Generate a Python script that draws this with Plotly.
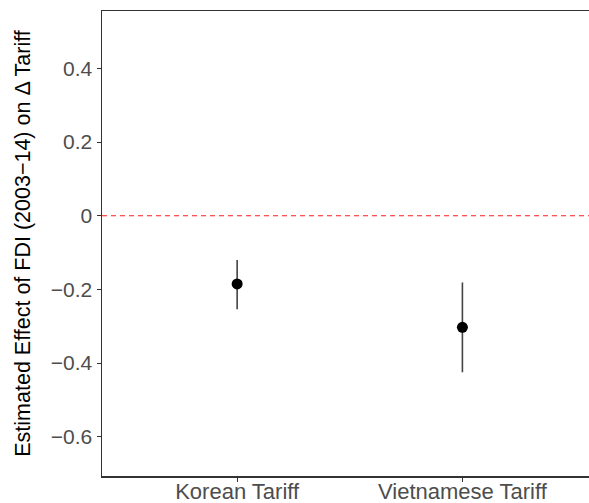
import plotly.graph_objects as go

categories = ["Korean Tariff", "Vietnamese Tariff"]
estimates = [-0.185, -0.303]
ci_upper = [-0.120, -0.181]
ci_lower = [-0.254, -0.425]
y_ticks = [0.4, 0.2, 0, -0.2, -0.4, -0.6]
y_tick_labels = ["0.4", "0.2", "0", "\u22120.2", "\u22120.4", "\u22120.6"]

err_plus = [u - e for u, e in zip(ci_upper, estimates)]
err_minus = [e - l for e, l in zip(estimates, ci_lower)]

fig = go.Figure()
fig.add_trace(go.Scatter(
    x=categories, y=estimates, mode="markers",
    marker=dict(color="black", size=11),
    error_y=dict(type="data", symmetric=False, array=err_plus, arrayminus=err_minus,
                 color="#444444", thickness=1.6, width=0),
    showlegend=False, hoverinfo="skip",
))
fig.add_hline(y=0, line=dict(color="#FF1A1A", width=1.1, dash="5px,4px"))

font_family = "Liberation Sans, Arial, sans-serif"
fig.update_layout(
    width=589, height=503,
    margin=dict(l=102, r=0, t=11, b=27, pad=0),
    paper_bgcolor="white", plot_bgcolor="white",
    font=dict(family=font_family),
    hovermode=False,
    xaxis=dict(
        type="category", range=[-0.6, 1.562], automargin=False,
        showline=True, linecolor="#333333", linewidth=1.5, mirror=True,
        ticks="outside", ticklen=4, tickcolor="#333333", tickwidth=1,
        tickfont=dict(size=22, color="#4D4D4D", family=font_family),
        ticklabelstandoff=-9,
        showgrid=False, zeroline=False,
    ),
    yaxis=dict(
        range=[-0.7066, 0.556], automargin=False,
        tickvals=y_ticks, ticktext=y_tick_labels,
        showline=True, linecolor="#333333", linewidth=1.5, mirror=False,
        ticks="outside", ticklen=4, tickcolor="#333333", tickwidth=1,
        tickfont=dict(size=21, color="#4D4D4D", family=font_family),
        showgrid=False, zeroline=False,
        title=dict(text="Estimated Effect of FDI (2003\u221214) on \u0394 Tariff",
                   font=dict(size=21.5, color="black", family=font_family), standoff=14),
    ),
)
fig.write_html("out.html", config={"displayModeBar": False, "staticPlot": True},
               post_script="document.body.style.margin='0';document.body.style.overflow='hidden';")
